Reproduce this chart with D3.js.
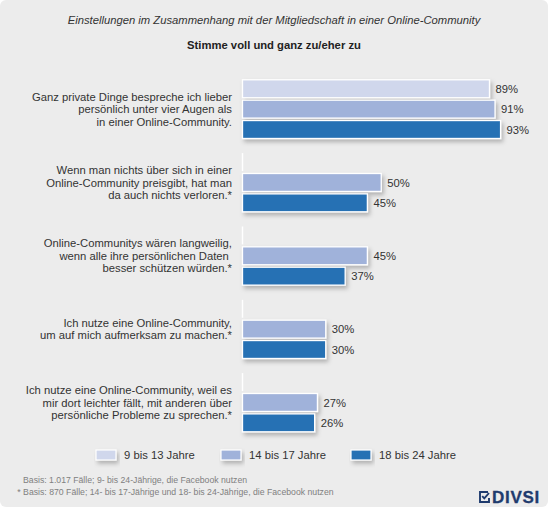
<!DOCTYPE html>
<html>
<head>
<meta charset="utf-8">
<script src="https://cdn.jsdelivr.net/npm/d3@7/dist/d3.min.js"></script>
<style>
  html, body { margin: 0; padding: 0; background: #ffffff; }
  svg { display: block; font-family: Arial, "Liberation Sans", sans-serif; }
</style>
</head>
<body>
<svg id="chart" width="550" height="510"></svg>
<script>
// ---- data ----
const categories = [
  ["Ganz private Dinge bespreche ich lieber", "persönlich unter vier Augen als", "in einer Online-Community."],
  ["Wenn man nichts über sich in einer", "Online-Community preisgibt, hat man", "da auch nichts verloren.*"],
  ["Online-Communitys wären langweilig,", "wenn alle ihre persönlichen Daten\u00a0", "besser schützen würden.*"],
  ["Ich nutze eine Online-Community,", "um auf mich aufmerksam zu machen.*"],
  ["Ich nutze eine Online-Community, weil es", "mir dort leichter fällt, mit anderen über", "persönliche Probleme zu sprechen.*"]
];
const seriesNames = ["9 bis 13 Jahre", "14 bis 17 Jahre", "18 bis 24 Jahre"];
const values9to13  = [89, null, null, null, null];
const values14to17 = [91, 50, 45, 30, 27];
const values18to24 = [93, 45, 37, 30, 26];
const seriesColors = ["#d0d7ec", "#a0b2da", "#2871b4"];
const titleText = "Einstellungen im Zusammenhang mit der Mitgliedschaft in einer Online-Community";
const subtitleText = "Stimme voll und ganz zu/eher zu";
const footnotes = [
  "Basis: 1.017 Fälle; 9- bis 24-Jährige, die Facebook nutzen",
  "* Basis: 870 Fälle; 14- bis 17-Jährige und 18- bis 24-Jährige, die Facebook nutzen"
];

const seriesValues = [values9to13, values14to17, values18to24];

// ---- drawing ----
const svg = d3.select("#chart");
const fs = 11.25;
const textColor = "#333333";

const defs = svg.append("defs");
const f = defs.append("filter").attr("id", "shadow")
  .attr("x", "-10%").attr("y", "-40%").attr("width", "130%").attr("height", "220%");
f.append("feDropShadow").attr("dx", 2).attr("dy", 3).attr("stdDeviation", 2.2)
  .attr("flood-color", "#000").attr("flood-opacity", 0.25);

// panel
svg.append("rect").attr("x", 0).attr("y", 0).attr("width", 548).attr("height", 507)
  .attr("rx", 6).attr("fill", "#ececec");

// title
svg.append("text").attr("x", 274).attr("y", 24).attr("text-anchor", "middle")
  .attr("font-size", fs).attr("font-style", "italic").attr("fill", textColor).text(titleText);
svg.append("text").attr("x", 274).attr("y", 49).attr("text-anchor", "middle")
  .attr("font-size", fs).attr("font-weight", "bold").attr("fill", "#222").text(subtitleText);

// scales
const x = d3.scaleLinear().domain([0, 100]).range([242.5, 520]);
const y0 = d3.scaleBand().domain(d3.range(categories.length)).range([79.8, 431.8]).paddingInner(0.2).paddingOuter(0);
const y1 = d3.scaleBand().domain(d3.range(seriesNames.length)).range([0, y0.bandwidth()]).paddingInner(0.12).paddingOuter(0);

const groups = svg.selectAll("g.grp").data(categories).join("g")
  .attr("class", "grp")
  .attr("transform", (d, i) => `translate(0,${y0(i)})`);

// category labels
groups.each(function(lines, i) {
  const g = d3.select(this);
  const cy = y0.bandwidth() / 2;
  const lh = 12.5;
  const start = cy - (lines.length - 1) * lh / 2;
  const t = g.append("text").attr("text-anchor", "end").attr("font-size", fs).attr("fill", textColor)
    .attr("xml:space", "preserve");
  lines.forEach((ln, k) => {
    t.append("tspan").attr("x", 232).attr("y", start + k * lh).attr("dy", "0.36em").text(ln);
  });
});

// bars
groups.each(function(_, i) {
  const g = d3.select(this);
  seriesValues.forEach((vals, s) => {
    const v = vals[i];
    if (v == null) {
      // empty slot: only the white edge at zero remains
      g.append("line")
        .attr("x1", x(0)).attr("x2", x(0))
        .attr("y1", y1(s)).attr("y2", y1(s) + y1.bandwidth())
        .attr("stroke", "#ffffff").attr("stroke-width", 1.5);
      return;
    }
    g.append("rect")
      .attr("x", x(0)).attr("y", y1(s))
      .attr("width", x(v) - x(0)).attr("height", y1.bandwidth())
      .attr("fill", seriesColors[s])
      .attr("stroke", "#ffffff").attr("stroke-width", 1.3)
      .attr("filter", "url(#shadow)");
    g.append("text").attr("x", x(v) + 6).attr("y", y1(s) + y1.bandwidth() / 2).attr("dy", "0.36em")
      .attr("font-size", fs).attr("fill", textColor).text(v + "%");
  });
});

// legend
const legendX = [96, 221, 351];
const legend = svg.selectAll("g.leg").data(seriesNames).join("g").attr("class", "leg")
  .attr("transform", (d, i) => `translate(${legendX[i]},450)`);
legend.append("rect").attr("width", 20).attr("height", 10)
  .attr("fill", (d, i) => seriesColors[i]).attr("stroke", "#fff").attr("stroke-width", 1.2)
  .attr("filter", "url(#shadow)");
legend.append("text").attr("x", 28).attr("y", 5).attr("dy", "0.36em")
  .attr("font-size", fs).attr("fill", textColor).text(d => d);

// footnotes
svg.append("text").attr("x", 23).attr("y", 483.3).attr("font-size", 8.7).attr("fill", "#808080").text(footnotes[0]);
svg.append("text").attr("x", 17.3).attr("y", 495).attr("font-size", 8.7).attr("fill", "#808080").text(footnotes[1]);

// logo
const logoColor = "#1f3b6e";
const logo = svg.append("g").attr("transform", "translate(479,491)");
logo.append("path").attr("d", "M9,1 H1 V11 H10 V7").attr("fill", "none").attr("stroke", logoColor).attr("stroke-width", 1.9);
logo.append("path").attr("d", "M3.2,5.2 L5.3,7.4 L10,2").attr("fill", "none").attr("stroke", logoColor).attr("stroke-width", 1.9);
svg.append("text").attr("x", 492).attr("y", 503).attr("font-size", 17).attr("font-weight", "bold")
  .attr("letter-spacing", 0.7).attr("fill", logoColor).attr("stroke", logoColor).attr("stroke-width", 0.3)
  .text("DIVSI");
</script>
</body>
</html>
